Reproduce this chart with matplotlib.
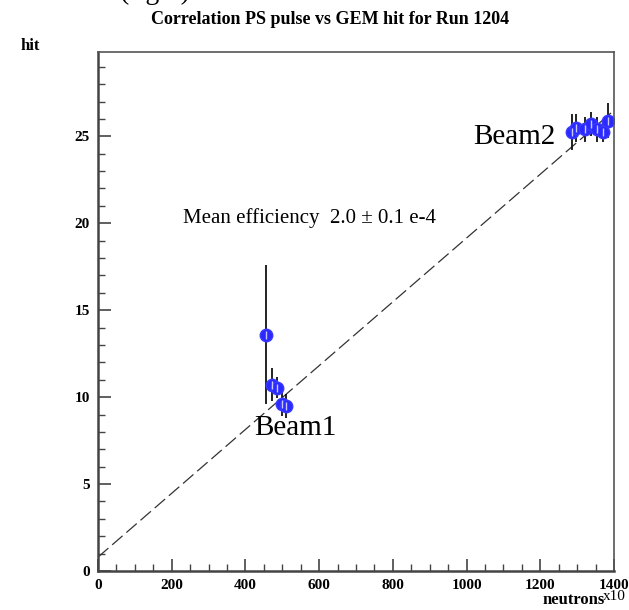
import matplotlib.pyplot as plt
from matplotlib.ticker import MultipleLocator

plt.rcParams['font.family'] = ['Liberation Serif', 'DejaVu Serif']

# fitted line (hit = a + b * neutrons)
fit_x = [0, 1392]
fit_a = 0.8
fit_b = 0.01835

# Beam1 points
b1_x = [457, 471, 485, 500, 510]
b1_y = [13.6, 10.7, 10.55, 9.6, 9.5]
b1_err = [4.0, 0.95, 0.6, 0.7, 0.7]

# Beam2 points
b2_x = [1285, 1298, 1321, 1339, 1353, 1371, 1384]
b2_y = [25.25, 25.5, 25.4, 25.7, 25.4, 25.25, 25.9]
b2_err = [1.05, 0.8, 0.7, 0.7, 0.7, 0.6, 1.0]

fig = plt.figure(figsize=(6.29, 6.10), dpi=100)
ax = fig.add_axes([0.1558, 0.0639, 0.8203, 0.8509])

fit_y = [fit_a + fit_b * v for v in fit_x]
ax.plot(fit_x, fit_y, color='#333333', lw=0.9, dashes=(11, 4))

for xs, ys, es in [(b1_x, b1_y, b1_err), (b2_x, b2_y, b2_err)]:
    ax.errorbar(xs, ys, yerr=es, fmt='none', ecolor='#111111', elinewidth=1.3, capsize=0)
    ax.plot(xs, ys, 'o', ms=9, mfc='#2a2aff', mec='#3a3aff', mew=1.0)
    ax.plot(xs, ys, '|', ms=6, color='#c8c8ff', mew=1.0)

ax.set_xlim(0, 1400)
ax.set_ylim(0, 29.85)
ax.xaxis.set_major_locator(MultipleLocator(200))
ax.xaxis.set_minor_locator(MultipleLocator(50))
ax.yaxis.set_major_locator(MultipleLocator(5))
ax.yaxis.set_minor_locator(MultipleLocator(1))
ax.tick_params(which='both', direction='in', top=False, right=False, color='#444444')
ax.tick_params(which='major', length=9, width=1.2, labelsize=11, pad=6)
ax.tick_params(which='minor', length=5, width=1.0)
for lab in ax.get_xticklabels() + ax.get_yticklabels():
    lab.set_fontweight('bold')
for side in ['left', 'bottom']:
    ax.spines[side].set_linewidth(1.8)
    ax.spines[side].set_color('#444444')
for side in ['top', 'right']:
    ax.spines[side].set_linewidth(1.2)
    ax.spines[side].set_color('#555555')

ax.text(0.165, 0.68, 'Mean efficiency  2.0 \u00b1 0.1 e-4', transform=ax.transAxes,
        fontsize=15, ha='left', va='center')
ax.text(0.302, 0.275, 'Beam1', transform=ax.transAxes, fontsize=21, ha='left', va='center')
ax.text(0.728, 0.837, 'Beam2', transform=ax.transAxes, fontsize=21, ha='left', va='center')

fig.text(0.525, 0.968, 'Correlation PS pulse vs GEM hit for Run 1204', fontsize=13,
         fontweight='bold', ha='center', va='center')
fig.text(0.032, 0.924, 'hit', fontsize=12, fontweight='bold', ha='left', va='center')
fig.text(0.962, 0.017, 'neutrons', fontsize=12, fontweight='bold', ha='right', va='center')
fig.text(0.958, 0.022, 'x10', fontsize=11, ha='left', va='center')
fig.text(0.19, 1.012, '(right)', fontsize=20, ha='left', va='center')

fig.savefig('out.png', dpi=100)
